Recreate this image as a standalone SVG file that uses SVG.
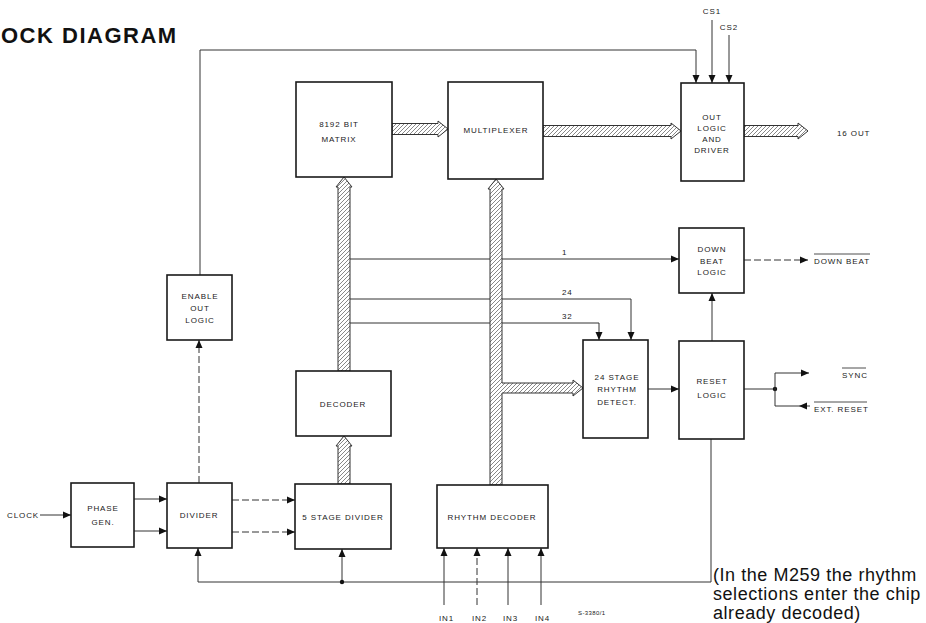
<svg xmlns="http://www.w3.org/2000/svg" width="926" height="623" viewBox="0 0 926 623">
<style>
.box{fill:#fff;stroke:#1a1a1a;stroke-width:1.6}
.ln{fill:none;stroke:#333;stroke-width:1}
.ar{marker-end:url(#ah)}
.dsh{stroke-dasharray:7 3}
.bus{fill:url(#hatch);stroke:#333;stroke-width:1}
.t{font-family:"Liberation Sans",Arial,sans-serif;font-size:8px;letter-spacing:0.9px;fill:#1a1a1a;text-anchor:middle}
.tl{font-family:"Liberation Sans",Arial,sans-serif;font-size:8px;letter-spacing:0.9px;fill:#1a1a1a}
.title{font-family:"Liberation Sans",Arial,sans-serif;font-size:22px;font-weight:bold;letter-spacing:1.5px;fill:#111}
.note{font-family:"Liberation Sans",Arial,sans-serif;font-size:18px;letter-spacing:0.55px;fill:#111}
</style>
<defs>
<pattern id="hatch" patternUnits="userSpaceOnUse" width="4" height="4">
<rect width="4" height="4" fill="#fff"/>
<path d="M-1,1 L1,-1 M0,4 L4,0 M3,5 L5,3" stroke="#555" stroke-width="0.7"/>
</pattern>
<marker id="ah" viewBox="0 0 8 8" refX="8" refY="4" markerWidth="8" markerHeight="8" markerUnits="userSpaceOnUse" orient="auto">
<path d="M0,0.5 L8,4 L0,7.5 Z" fill="#111"/>
</marker>
</defs>
<rect width="926" height="623" fill="#fff"/>
<text class="title" x="1" y="43">OCK  DIAGRAM</text>

<g id="connectors">
<path class="bus" d="M392,123.5 H438 V121 L448,129 L438,137 V134.5 H392 Z"/>
<path class="bus" d="M543,125.5 H671 V123 L681,131 L671,139 V136.5 H543 Z"/>
<path class="bus" d="M744,125.5 H798 V123 L808,131 L798,139 V136.5 H744 Z"/>
<path class="bus" d="M338,371 V187 H336 L344,177 L352,187 H350 V371 Z"/>
<path class="bus" d="M338,484 V446 H336 L344,436 L352,446 H350 V484 Z"/>
<path class="ln ar" d="M350,259 H679"/>
<path class="ln ar" d="M350,299 H631 V340"/>
<path class="ln ar" d="M350,323 H599 V340"/>
<path class="bus" d="M490,485 V189 H488 L496,179 L504,189 H502 V383 H573 V380 L583,388 L573,396 V393 H502 V485 Z"/>
<path class="ln ar" d="M200,275 V50 H696 V83"/>
<path class="ln ar" d="M712,20 V83"/>
<path class="ln ar" d="M729,35 V83"/>
<path class="ln ar" d="M40,515 H71"/>
<path class="ln ar" d="M134,499 H167"/>
<path class="ln ar" d="M134,531 H167"/>
<path class="ln ar dsh" d="M232,500 H295"/>
<path class="ln ar dsh" d="M232,532 H295"/>
<path class="ln ar dsh" d="M199,483 V340"/>
<path class="ln ar" d="M711,439 V582 H198 V548"/>
<path class="ln ar" d="M342,582 V549"/>
<circle cx="342" cy="582" r="2.2" fill="#111"/>
<path class="ln ar" d="M444,605 V548"/>
<path class="ln ar dsh" d="M477,605 V548"/>
<path class="ln ar" d="M508,605 V548"/>
<path class="ln ar" d="M541,605 V548"/>
<path class="ln ar" d="M712,341 V293"/>
<path class="ln ar" d="M648,389 H679"/>
<path class="ln ar dsh" d="M744,260 H808"/>
<path class="ln" d="M744,389 H775"/>
<circle cx="775" cy="389" r="2.2" fill="#111"/>
<path class="ln ar" d="M775,389 V373 H809"/>
<path class="ln" d="M775,389 V406 H810"/>
<polygon points="799,406 807,402.5 807,409.5" fill="#111"/>
</g>

<g id="matrix"><rect class="box" x="296" y="82" width="96" height="95"/>
<text class="t" x="339" y="127">8192 BIT</text><text class="t" x="339" y="142">MATRIX</text></g>
<g id="multiplexer"><rect class="box" x="448" y="82" width="95" height="97"/>
<text class="t" x="496" y="133">MULTIPLEXER</text></g>
<g id="outlogic"><rect class="box" x="681" y="83" width="63" height="98"/>
<text class="t" x="712" y="120">OUT</text><text class="t" x="712" y="131">LOGIC</text><text class="t" x="712" y="142">AND</text><text class="t" x="712" y="153">DRIVER</text></g>
<g id="downbeat"><rect class="box" x="679" y="228" width="65" height="65"/>
<text class="t" x="712" y="252">DOWN</text><text class="t" x="712" y="264">BEAT</text><text class="t" x="712" y="275">LOGIC</text></g>
<g id="enable"><rect class="box" x="167" y="275" width="65" height="65"/>
<text class="t" x="200" y="299">ENABLE</text><text class="t" x="200" y="311">OUT</text><text class="t" x="200" y="323">LOGIC</text></g>
<g id="detect"><rect class="box" x="583" y="340" width="65" height="98"/>
<text class="t" x="617" y="380">24 STAGE</text><text class="t" x="617" y="392">RHYTHM</text><text class="t" x="617" y="405">DETECT.</text></g>
<g id="reset"><rect class="box" x="679" y="341" width="65" height="98"/>
<text class="t" x="712" y="384">RESET</text><text class="t" x="712" y="398">LOGIC</text></g>
<g id="decoder"><rect class="box" x="296" y="371" width="95" height="65"/>
<text class="t" x="343" y="407">DECODER</text></g>
<g id="phasegen"><rect class="box" x="71" y="483" width="63" height="64"/>
<text class="t" x="103" y="511">PHASE</text><text class="t" x="103" y="525">GEN.</text></g>
<g id="divider"><rect class="box" x="167" y="483" width="65" height="65"/>
<text class="t" x="199" y="518">DIVIDER</text></g>
<g id="stagediv"><rect class="box" x="295" y="484" width="96" height="65"/>
<text class="t" x="343" y="520">5 STAGE DIVIDER</text></g>
<g id="rhythmdec"><rect class="box" x="437" y="485" width="111" height="63"/>
<text class="t" x="492" y="520">RHYTHM DECODER</text></g>

<g id="labels">
<text class="tl" x="7" y="518">CLOCK</text>
<text class="t" x="712" y="14">CS1</text>
<text class="t" x="729" y="30">CS2</text>
<text class="tl" x="837" y="136">16 OUT</text>
<text class="tl" x="562" y="255">1</text>
<text class="tl" x="562" y="295">24</text>
<text class="tl" x="562" y="319">32</text>
<text class="tl" x="814" y="264">DOWN BEAT</text>
<line x1="814" y1="254" x2="870" y2="254" stroke="#222" stroke-width="0.8"/>
<text class="tl" x="842" y="378">SYNC</text>
<line x1="842" y1="368" x2="866" y2="368" stroke="#222" stroke-width="0.8"/>
<text class="tl" x="814" y="412">EXT. RESET</text>
<line x1="814" y1="402" x2="867" y2="402" stroke="#222" stroke-width="0.8"/>
<text class="tl" x="439" y="621">IN1</text>
<text class="tl" x="472" y="621">IN2</text>
<text class="tl" x="503" y="621">IN3</text>
<text class="tl" x="535" y="621">IN4</text>
<text class="tl" x="578" y="615" style="font-size:6px;letter-spacing:0.4px">S-3380/1</text>
<text class="note" x="713" y="581">(In the M259 the rhythm</text>
<text class="note" x="713" y="600">selections enter the chip</text>
<text class="note" x="713" y="619">already decoded)</text>
</g>
</svg>
